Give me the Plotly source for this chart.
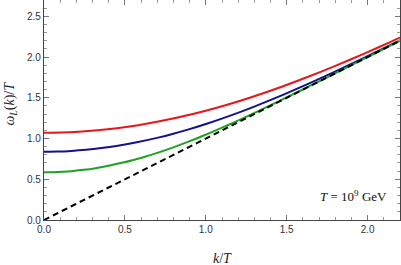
import plotly.graph_objects as go

# Values
k_red = [0.0, 0.1073, 0.2166, 0.3302, 0.4506, 0.5820, 0.7302, 0.9060, 1.0105, 1.1323,
         1.2811, 1.4778, 1.6402, 1.7855, 1.9935, 2.1489, 2.3974]
w_red = [1.070, 1.0727, 1.0831, 1.1006, 1.1266, 1.1640, 1.2170, 1.2943, 1.3473, 1.4153,
         1.5072, 1.6419, 1.7636, 1.8795, 2.0551, 2.1928, 2.4216]

k_blue = [0.0, 0.0842, 0.1701, 0.2592, 0.3538, 0.4569, 0.5733, 0.7113, 0.7933, 0.8889,
          1.0057, 1.1601, 1.2876, 1.4017, 1.5650, 1.6870, 1.8821, 2.0625, 2.2821]
w_blue = [0.838, 0.8401, 0.8483, 0.8620, 0.8824, 0.9118, 0.9534, 1.0141, 1.0557, 1.1091,
          1.1812, 1.2870, 1.3825, 1.4735, 1.6114, 1.7194, 1.8991, 2.0709, 2.2847]

k_green = [0.0, 0.0586, 0.1184, 0.1805, 0.2464, 0.3182, 0.3992, 0.4954, 0.5524, 0.6190,
           0.7004, 0.8079, 0.8967, 0.9762, 1.0899, 1.1749, 1.3107, 1.4364, 1.5893,
           1.6967, 1.7980, 2.0144, 2.1008, 2.2889]
w_green = [0.585, 0.5865, 0.5922, 0.6017, 0.6159, 0.6364, 0.6654, 0.7077, 0.7366, 0.7738,
           0.8240, 0.8977, 0.9642, 1.0276, 1.1236, 1.1988, 1.3240, 1.4436, 1.5925,
           1.6984, 1.7989, 2.0146, 2.1009, 2.2889]

k_light = [0.0, 2.2]
w_light = [0.0, 2.2]

tick_vals_x = [0.0, 0.5, 1.0, 1.5, 2.0]
tick_vals_y = [0.0, 0.5, 1.0, 1.5, 2.0, 2.5]

fig = go.Figure()
fig.add_trace(go.Scatter(x=k_red, y=w_red, mode="lines",
                         line=dict(color="#e8161b", width=2, shape="spline", smoothing=0.8)))
fig.add_trace(go.Scatter(x=k_blue, y=w_blue, mode="lines",
                         line=dict(color="#12128f", width=2, shape="spline", smoothing=0.8)))
fig.add_trace(go.Scatter(x=k_green, y=w_green, mode="lines",
                         line=dict(color="#20a020", width=2, shape="spline", smoothing=0.8)))
fig.add_trace(go.Scatter(x=k_light, y=w_light, mode="lines",
                         line=dict(color="black", width=2, dash="6px,4px")))

axis_common = dict(
    showline=True, linecolor="#444444", linewidth=1.3, mirror="ticks",
    showgrid=False, zeroline=False,
    ticks="inside", ticklen=5, tickwidth=1, tickcolor="#777777",
    tickfont=dict(family="Liberation Sans, Arial, sans-serif", size=10, color="#333333"),
    tickformat=".1f",
    minor=dict(dtick=0.1, ticks="inside", ticklen=3, tickwidth=1, tickcolor="#999999", showgrid=False),
)

fig.update_layout(
    width=401, height=265,
    margin=dict(l=44, r=1, t=0, b=45),
    paper_bgcolor="white", plot_bgcolor="white",
    showlegend=False,
    xaxis=dict(range=[0, 2.2], tickvals=tick_vals_x, **axis_common),
    yaxis=dict(range=[0, 2.7], tickvals=tick_vals_y, **axis_common),
    annotations=[
        dict(text="<i>k</i>/<i>T</i>", xref="paper", yref="paper", x=0.5, y=-0.13,
             yanchor="top", showarrow=False,
             font=dict(family="Liberation Serif, Times New Roman, serif", size=14, color="#222222")),
        dict(text="<i>ω</i><sub><i>L</i></sub>(<i>k</i>)/<i>T</i>", xref="paper", yref="paper",
             x=-0.095, y=0.53, textangle=-90, showarrow=False, xanchor="center", yanchor="middle",
             font=dict(family="Liberation Serif, Times New Roman, serif", size=14, color="#222222")),
        dict(text="<i>T</i> = 10<sup>9</sup> GeV", xref="paper", yref="paper",
             x=0.97, y=0.065, xanchor="right", yanchor="bottom", showarrow=False,
             font=dict(family="Liberation Serif, Times New Roman, serif", size=13, color="#111111")),
    ],
)

fig.write_html("out.html", config={"displayModeBar": False},
               post_script="document.body.style.margin='0';document.body.style.overflow='hidden';")
